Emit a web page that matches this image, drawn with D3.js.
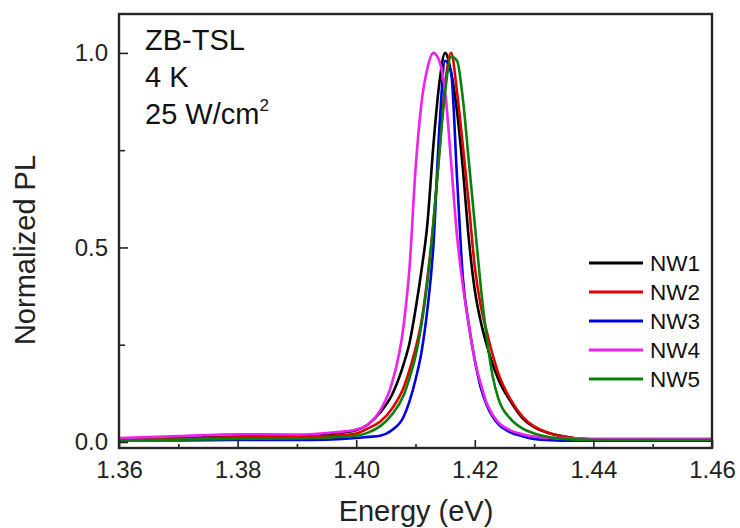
<!DOCTYPE html>
<html>
<head>
<meta charset="utf-8">
<script src="https://cdn.jsdelivr.net/npm/d3@7"></script>
<style>
  body { margin: 0; background: #fff; }
  svg { display: block; font-family: "Liberation Sans", Arial, sans-serif; }
</style>
</head>
<body>
<svg id="chart" width="740" height="528"></svg>
<script>
// photon energy grid (eV), shared by all spectra
var energy = [1.36, 1.37, 1.38, 1.39, 1.395, 1.400, 1.402, 1.404, 1.406, 1.408, 1.409,
  1.410, 1.411, 1.412, 1.413, 1.414, 1.415, 1.416, 1.417, 1.418, 1.419, 1.420,
  1.421, 1.422, 1.423, 1.424, 1.426, 1.428, 1.430, 1.432, 1.435, 1.440, 1.450, 1.460];

// normalized PL
var nw1 = [0.006, 0.010, 0.014, 0.015, 0.020, 0.030, 0.045, 0.075, 0.120, 0.200, 0.255,
  0.340, 0.440, 0.560, 0.760, 0.920, 1.000, 0.950, 0.850, 0.700, 0.520, 0.390,
  0.310, 0.250, 0.200, 0.160, 0.105, 0.062, 0.038, 0.025, 0.014, 0.006, 0.005, 0.005];
var nw2 = [0.005, 0.008, 0.012, 0.013, 0.015, 0.022, 0.035, 0.052, 0.085, 0.140, 0.185,
  0.240, 0.310, 0.420, 0.560, 0.740, 0.920, 1.000, 0.900, 0.760, 0.610, 0.450,
  0.350, 0.285, 0.225, 0.175, 0.110, 0.066, 0.040, 0.026, 0.014, 0.006, 0.005, 0.005];
var nw3 = [0.004, 0.004, 0.005, 0.005, 0.006, 0.010, 0.013, 0.016, 0.030, 0.065, 0.105,
  0.160, 0.230, 0.340, 0.500, 0.800, 0.980, 0.950, 0.680, 0.420, 0.300, 0.210,
  0.140, 0.095, 0.065, 0.045, 0.025, 0.015, 0.008, 0.005, 0.003, 0.003, 0.003, 0.003];
var nw4 = [0.010, 0.015, 0.020, 0.019, 0.023, 0.032, 0.045, 0.080, 0.150, 0.300, 0.450,
  0.700, 0.870, 0.960, 1.000, 0.980, 0.900, 0.720, 0.530, 0.400, 0.300, 0.210,
  0.150, 0.100, 0.070, 0.050, 0.030, 0.020, 0.014, 0.011, 0.010, 0.008, 0.008, 0.008];
var nw5 = [0.004, 0.006, 0.008, 0.009, 0.011, 0.016, 0.024, 0.040, 0.070, 0.120, 0.165,
  0.220, 0.300, 0.410, 0.560, 0.740, 0.900, 0.990, 0.980, 0.880, 0.720, 0.560,
  0.400, 0.270, 0.170, 0.110, 0.060, 0.035, 0.022, 0.014, 0.008, 0.005, 0.005, 0.005];

var seriesNames = ['NW1', 'NW2', 'NW3', 'NW4', 'NW5'];
var seriesValues = [nw1, nw2, nw3, nw4, nw5];
var colors = ['#000000', '#e00000', '#0000e0', '#f020f0', '#0a800a'];

var xTicks = [1.36, 1.38, 1.40, 1.42, 1.44, 1.46];
var xMinor = [1.37, 1.39, 1.41, 1.43, 1.45];
var yTicks = [0.0, 0.5, 1.0];
var yMinor = [0.25, 0.75];

var plotLeft = 119, plotRight = 712, plotTop = 14, plotBottom = 448;

var x = d3.scaleLinear().domain([1.36, 1.46]).range([plotLeft, plotRight]);
var y = d3.scaleLinear().domain([-0.0155, 1.1]).range([plotBottom, plotTop]);

var svg = d3.select('#chart');

// curves
var line = d3.line()
  .x(function(d) { return x(d[0]); })
  .y(function(d) { return y(d[1]); })
  .curve(d3.curveMonotoneX);

svg.append('g')
  .selectAll('path')
  .data(seriesValues)
  .enter()
  .append('path')
  .attr('fill', 'none')
  .attr('stroke', function(d, i) { return colors[i]; })
  .attr('stroke-width', 2.6)
  .attr('stroke-linejoin', 'round')
  .attr('d', function(vals) {
    return line(energy.map(function(e, i) { return [e, vals[i]]; }));
  });

// axes (ticks point inward)
var xAxis = svg.append('g')
  .attr('transform', 'translate(0,' + plotBottom + ')')
  .call(d3.axisBottom(x).tickValues(xTicks).tickSize(-8).tickPadding(13)
    .tickFormat(d3.format('.2f')));
svg.append('g')
  .attr('transform', 'translate(0,' + plotBottom + ')')
  .call(d3.axisBottom(x).tickValues(xMinor).tickSize(-4).tickFormat(''));

var yAxis = svg.append('g')
  .attr('transform', 'translate(' + plotLeft + ',0)')
  .call(d3.axisLeft(y).tickValues(yTicks).tickSize(-9).tickPadding(11)
    .tickFormat(d3.format('.1f')));
svg.append('g')
  .attr('transform', 'translate(' + plotLeft + ',0)')
  .call(d3.axisLeft(y).tickValues(yMinor).tickSize(-6).tickFormat(''));

svg.selectAll('.domain').remove();
svg.selectAll('.tick line').attr('stroke', '#222').attr('stroke-width', 1.6);
svg.selectAll('.tick text')
  .attr('fill', '#222')
  .style('font-size', '24px')
  .style('font-family', '"Liberation Sans", Arial, sans-serif');
xAxis.selectAll('.tick text').attr('dy', '0.71em');

// frame
svg.append('rect')
  .attr('x', plotLeft).attr('y', plotTop)
  .attr('width', plotRight - plotLeft).attr('height', plotBottom - plotTop)
  .attr('fill', 'none')
  .attr('stroke', '#262626')
  .attr('stroke-width', 2.4);

// axis titles
svg.append('text')
  .attr('x', 416).attr('y', 521)
  .attr('text-anchor', 'middle')
  .style('font-size', '29px')
  .attr('fill', '#222')
  .text('Energy (eV)');

svg.append('text')
  .attr('transform', 'translate(35,250) rotate(-90)')
  .attr('text-anchor', 'middle')
  .style('font-size', '29px')
  .attr('fill', '#222')
  .text('Normalized PL');

// annotation
var note = svg.append('g').style('font-size', '29px').attr('fill', '#111');
note.append('text').attr('x', 145).attr('y', 50).text('ZB-TSL');
note.append('text').attr('x', 145).attr('y', 87).text('4 K');
var t3 = note.append('text').attr('x', 145).attr('y', 124);
t3.append('tspan').text('25 W/cm');
t3.append('tspan').attr('dy', -13).style('font-size', '17px').text('2');

// legend
var legend = svg.append('g')
  .selectAll('g')
  .data(seriesNames)
  .enter()
  .append('g')
  .attr('transform', function(d, i) { return 'translate(0,' + (263 + i * 29) + ')'; });

legend.append('line')
  .attr('x1', 589).attr('x2', 643)
  .attr('stroke', function(d, i) { return colors[i]; })
  .attr('stroke-width', 2.8);

legend.append('text')
  .attr('x', 650)
  .attr('dy', '0.36em')
  .style('font-size', '22.5px')
  .attr('fill', '#111')
  .text(function(d) { return d; });
</script>
</body>
</html>
